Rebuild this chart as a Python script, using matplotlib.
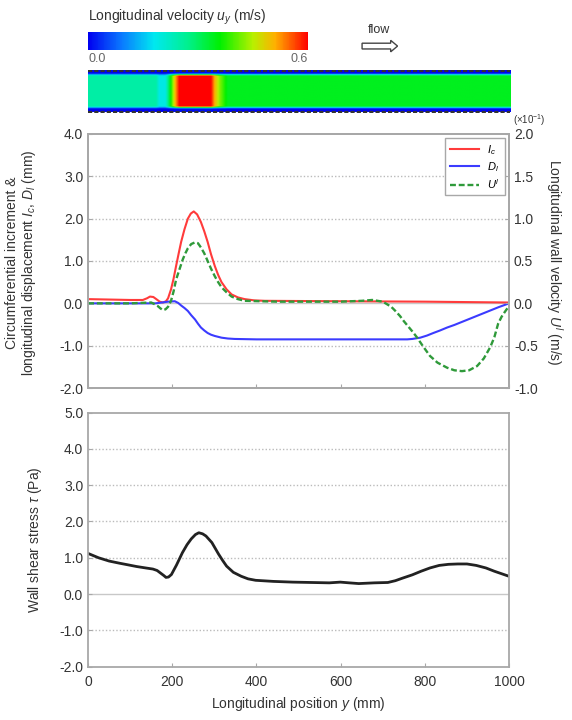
import matplotlib
matplotlib.use('Agg')
import matplotlib.pyplot as plt
import numpy as np
from matplotlib.colors import Normalize, LinearSegmentedColormap
from matplotlib.colorbar import ColorbarBase
from matplotlib.patches import FancyArrow

plt.rcParams['font.family'] = ['Liberation Sans', 'DejaVu Sans']
plt.rcParams['mathtext.fontset'] = 'custom'
plt.rcParams['mathtext.it'] = 'Liberation Sans:italic'
plt.rcParams['mathtext.rm'] = 'Liberation Sans'

# Circumferential increment I_c (mm)
x_ic = [0, 50, 100, 130, 140, 147, 155, 162, 170, 178, 185, 190, 197, 203, 209,
        215, 221, 229, 237, 244, 251, 259, 268, 276, 284, 292, 301, 309, 317, 329,
        341, 356, 372, 395, 420, 600, 800, 1000]
ic = [0.10, 0.09, 0.08, 0.08, 0.12, 0.16, 0.15, 0.10, 0.04, 0.02, 0.05, 0.12,
      0.33, 0.58, 0.88, 1.17, 1.45, 1.75, 2.00, 2.12, 2.17, 2.10, 1.92, 1.70,
      1.45, 1.16, 0.88, 0.67, 0.50, 0.33, 0.21, 0.14, 0.10, 0.07, 0.06, 0.05,
      0.04, 0.02]

# Longitudinal displacement D_l (mm)
x_dl = [0, 100, 160, 175, 190, 206, 214, 221, 229, 237, 245, 254, 261, 268, 276,
        284, 292, 301, 309, 317, 332, 348, 400, 500, 600, 700, 758, 770, 789, 805,
        820, 836, 853, 870, 885, 900, 915, 935, 955, 975, 1000]
dl = [0.0, 0.0, 0.0, 0.02, 0.04, 0.05, 0.01, -0.05, -0.11, -0.18, -0.28, -0.38,
      -0.48, -0.57, -0.64, -0.70, -0.74, -0.77, -0.79, -0.81, -0.83, -0.84, -0.85,
      -0.85, -0.85, -0.85, -0.85, -0.84, -0.81, -0.76, -0.70, -0.64, -0.57, -0.51,
      -0.45, -0.39, -0.33, -0.25, -0.17, -0.09, 0.0]

# Longitudinal wall velocity U^l (x10^-1 m/s)
x_ul = [0, 100, 150, 158, 165, 172, 178, 184, 190, 197, 203, 209, 217, 225, 231,
        237, 245, 254, 261, 268, 276, 284, 292, 301, 309, 317, 329, 341, 356, 372,
        450, 600, 650, 675, 700, 720, 730, 741, 750, 760, 770, 781, 796, 812, 830,
        853, 870, 888, 905, 924, 940, 955, 965, 974, 982, 990, 1000]
ul = [0.0, 0.0, 0.01, -0.01, -0.03, -0.06, -0.08, -0.07, -0.04, 0.03, 0.14, 0.28,
      0.40, 0.52, 0.59, 0.65, 0.70, 0.72, 0.71, 0.66, 0.59, 0.50, 0.41, 0.32, 0.25,
      0.19, 0.13, 0.08, 0.05, 0.03, 0.02, 0.02, 0.03, 0.04, 0.02, -0.04, -0.09,
      -0.15, -0.21, -0.27, -0.33, -0.40, -0.51, -0.62, -0.70, -0.76, -0.79, -0.80,
      -0.79, -0.74, -0.65, -0.52, -0.40, -0.24, -0.16, -0.10, -0.03]

# Wall shear stress tau (Pa)
x_tau = [0, 25, 50, 75, 93, 115, 137, 154, 164, 172, 180, 185, 191, 198, 210, 224,
         235, 245, 255, 263, 272, 280, 294, 310, 320, 329, 345, 364, 380, 398, 440,
         486, 530, 573, 599, 620, 643, 680, 712, 730, 747, 770, 791, 812, 834, 856,
         878, 900, 922, 945, 965, 985, 1000]
tau = [1.12, 1.00, 0.91, 0.85, 0.81, 0.76, 0.72, 0.69, 0.65, 0.58, 0.51, 0.46,
       0.47, 0.54, 0.80, 1.14, 1.36, 1.52, 1.64, 1.69, 1.66, 1.60, 1.42, 1.10,
       0.92, 0.77, 0.60, 0.49, 0.42, 0.38, 0.35, 0.33, 0.32, 0.31, 0.33, 0.31,
       0.29, 0.31, 0.32, 0.37, 0.44, 0.53, 0.63, 0.72, 0.79, 0.82, 0.83, 0.83,
       0.79, 0.72, 0.63, 0.55, 0.49]

# centreline longitudinal velocity in the tube snapshot (m/s)
tube_x = [0, 160, 168, 182, 192, 205, 215, 290, 300, 312, 330, 1000]
tube_u = [0.25, 0.25, 0.19, 0.19, 0.32, 0.50, 0.60, 0.60, 0.50, 0.42, 0.34, 0.34]
# radial factor (wall -> centre -> wall)
tube_r = [-1.0, -0.86, -0.74, 0.74, 0.86, 1.0]
tube_f = [0.02, 0.02, 1.0, 1.0, 0.02, 0.02]

xticks = [0, 200, 400, 600, 800, 1000]
grey = '#a8a8a8'
txt = '#333333'

vel_cmap = LinearSegmentedColormap.from_list(
    'vel', [(0.0, '#0000f0'), (0.15, '#0a78ff'), (0.3, '#00e8f0'), (0.45, '#00f090'),
            (0.6, '#00f000'), (0.75, '#b8f000'), (0.85, '#ffb000'), (1.0, '#ff0000')])

fig = plt.figure(figsize=(5.72, 7.2), dpi=100)

# colour bar
cax = fig.add_axes([0.154, 0.931, 0.385, 0.025])
cb = ColorbarBase(cax, cmap=vel_cmap, norm=Normalize(0, 0.6), orientation='horizontal')
cb.set_ticks([])
cb.outline.set_visible(False)
fig.text(0.154, 0.962, 'Longitudinal velocity $u_y$ (m/s)', fontsize=10, color=txt,
         ha='left', va='bottom')
fig.text(0.154, 0.926, '0.0', fontsize=9, color='#666666', ha='left', va='top')
fig.text(0.539, 0.926, '0.6', fontsize=9, color='#666666', ha='right', va='top')

# flow arrow
fig.text(0.663, 0.950, 'flow', fontsize=9, color=txt, ha='center', va='bottom')
fig.patches.append(FancyArrow(0.633, 0.936, 0.050, 0, width=0.008, head_width=0.016,
                              head_length=0.012, transform=fig.transFigure,
                              facecolor='white', edgecolor='#444444', lw=1.0))

# tube snapshot
tax = fig.add_axes([0.154, 0.843, 0.738, 0.060])
xx = np.linspace(0, 1000, 400)
rr = np.linspace(-1, 1, 60)
field = np.outer(np.interp(rr, tube_r, tube_f), np.interp(xx, tube_x, tube_u))
tax.imshow(field, cmap=vel_cmap, vmin=0, vmax=0.6, aspect='auto',
           extent=[0, 1000, -1, 1], interpolation='bilinear')
tax.axhline(1, color='#333333', lw=1.5, ls=(0, (2, 1)))
tax.axhline(-1, color='#333333', lw=1.5, ls=(0, (2, 1)))
tax.set_xlim(0, 1000)
tax.set_ylim(-1.05, 1.05)
tax.axis('off')


def style(ax):
    for s in ax.spines.values():
        s.set_color(grey)
        s.set_linewidth(1.3)
    ax.tick_params(colors=grey, labelcolor=txt, labelsize=10, direction='in', length=3)


# top panel
ax1 = fig.add_axes([0.154, 0.461, 0.736, 0.353])
ax1.set_xlim(0, 1000)
ax1.set_ylim(-2, 4)
ax1.set_yticks([-2, -1, 0, 1, 2, 3, 4])
ax1.set_yticklabels(['-2.0', '-1.0', '0.0', '1.0', '2.0', '3.0', '4.0'])
ax1.set_xticks(xticks)
ax1.set_xticklabels([])
for v in [-1, 1, 2, 3]:
    ax1.axhline(v, color='#bbbbbb', lw=1.0, ls=(0, (1, 1.5)), zorder=0)
ax1.axhline(0, color='#c8c8c8', lw=1.0, zorder=0)
style(ax1)

ax2 = ax1.twinx()
ax2.set_ylim(-1, 2)
ax2.set_yticks([-1, -0.5, 0, 0.5, 1, 1.5, 2])
ax2.set_yticklabels(['-1.0', '-0.5', '0.0', '0.5', '1.0', '1.5', '2.0'])
style(ax2)
ax2.spines['right'].set_linestyle((0, (1, 1)))

l1, = ax1.plot(x_ic, ic, color='#ff3b3b', lw=1.5, label='$I_c$')
l2, = ax1.plot(x_dl, dl, color='#3b3bff', lw=1.5, label='$D_l$')
l3, = ax2.plot(x_ul, ul, color='#2f9a3a', lw=1.7, ls=(0, (2.5, 1.2)), label='$U^l$')
leg = ax1.legend(handles=[l1, l2, l3], loc='upper right', fontsize=8, handlelength=2.6,
                 fancybox=False, edgecolor=grey, framealpha=1,
                 borderaxespad=0.4, labelspacing=0.3)
leg.get_frame().set_linewidth(1.0)

fig.text(0.038, 0.635, 'Circumferential increment &\nlongitudinal displacement $I_c$, $D_l$ (mm)',
         rotation=90, ha='center', va='center', fontsize=10, color=txt, linespacing=1.1)
fig.text(0.970, 0.635, 'Longitudinal wall velocity $U^l$ (m/s)', rotation=270,
         ha='center', va='center', fontsize=10, color=txt)
fig.text(0.925, 0.822, r'($\times$10$^{-1}$)', fontsize=7, color=txt, ha='center', va='bottom')

# bottom panel
ax3 = fig.add_axes([0.154, 0.074, 0.736, 0.353])
ax3.set_xlim(0, 1000)
ax3.set_ylim(-2, 5)
ax3.set_yticks([-2, -1, 0, 1, 2, 3, 4, 5])
ax3.set_yticklabels(['-2.0', '-1.0', '0.0', '1.0', '2.0', '3.0', '4.0', '5.0'])
ax3.set_xticks(xticks)
ax3.set_xticklabels([str(v) for v in xticks])
for v in [-1, 1, 2, 3, 4]:
    ax3.axhline(v, color='#bbbbbb', lw=1.0, ls=(0, (1, 1.5)), zorder=0)
ax3.axhline(0, color='#c8c8c8', lw=1.0, zorder=0)
style(ax3)
ax3.tick_params(axis='x', pad=6)
ax3.plot(x_tau, tau, color='#222222', lw=2.0)
ax3.set_xlabel('Longitudinal position $y$ (mm)', fontsize=10, color=txt, labelpad=4)
fig.text(0.062, 0.250, r'Wall shear stress $\tau$ (Pa)', rotation=90, ha='center',
         va='center', fontsize=10, color=txt)

fig.savefig('out.png', dpi=100)
